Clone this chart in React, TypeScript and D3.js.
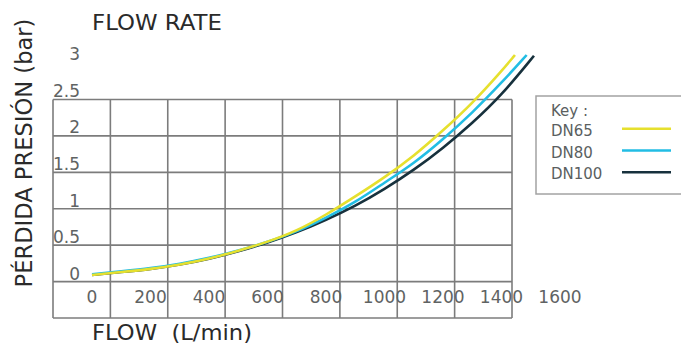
import React from "react";
import * as d3 from "d3";

const xTicks = [0, 200, 400, 600, 800, 1000, 1200, 1400, 1600];
const yTicks = [0, 0.5, 1, 1.5, 2, 2.5, 3];

const dn65: [number, number][] = [
  [0, 0], [100, 0.04], [200, 0.08], [300, 0.14], [400, 0.22], [500, 0.33],
  [600, 0.45], [700, 0.6], [800, 0.82], [900, 1.07], [1000, 1.33], [1100, 1.62],
  [1200, 1.97], [1300, 2.34], [1400, 2.78], [1446, 3.0],
];
const dn80: [number, number][] = [
  [0, 0.01], [100, 0.05], [200, 0.09], [300, 0.15], [400, 0.23], [500, 0.33],
  [600, 0.45], [700, 0.59], [800, 0.78], [900, 0.99], [1000, 1.26], [1100, 1.52],
  [1200, 1.85], [1300, 2.21], [1400, 2.62], [1486, 3.0],
];
const dn100: [number, number][] = [
  [0, 0], [100, 0.04], [200, 0.08], [300, 0.14], [400, 0.22], [500, 0.32],
  [600, 0.44], [700, 0.58], [800, 0.75], [900, 0.94], [1000, 1.17], [1100, 1.43],
  [1200, 1.73], [1300, 2.07], [1400, 2.45], [1511, 2.99],
];

const seriesNames = ["DN65", "DN80", "DN100"];
const seriesColors = ["#e6e02e", "#22bde4", "#17313d"];
const seriesData = [dn65, dn80, dn100];

const gridCols = d3.range(0, 9);
const gridRows = d3.range(0, 7);

const FONT = "'DejaVu Sans', sans-serif";

export default function App() {
  const W = 681, H = 347;
  const x = d3.scaleLinear().domain([0, 1600]).range([92, 560]);
  const y = d3.scaleLinear().domain([0, 3]).range([275, 55]);
  const gx = d3.scaleLinear().domain([0, 8]).range([53, 512]);
  const gy = d3.scaleLinear().domain([0, 6]).range([99.5, 318]);
  const line = d3
    .line<[number, number]>()
    .x((d) => x(d[0]))
    .y((d) => y(d[1]))
    .curve(d3.curveBasis);

  const legendY = d3.scaleLinear().domain([0, 1]).range([135.7, 157.5]);
  const drawOrder = [2, 1, 0];

  return (
    <svg
      width={W}
      height={H}
      style={{ position: "absolute", left: 0, top: 0, background: "#fff" }}
      fontFamily={FONT}
    >
      <rect x={0} y={0} width={W} height={H} fill="#fff" />
      {/* grid */}
      <g stroke="#7c7c7c" strokeWidth={1.6} fill="none">
        {gridCols.map((c) => (
          <line key={"c" + c} x1={gx(c)} x2={gx(c)} y1={gy(0)} y2={gy(6)} />
        ))}
        {gridRows.map((r) => (
          <line key={"r" + r} x1={gx(0)} x2={gx(8)} y1={gy(r)} y2={gy(r)} />
        ))}
      </g>
      {/* y tick labels */}
      <g fill="#5f6363" fontSize={17} textAnchor="end">
        {yTicks.map((t) => (
          <text key={t} x={80} y={y(t) + 5}>
            {String(t)}
          </text>
        ))}
      </g>
      {/* x tick labels */}
      <g fill="#5f6363" fontSize={17} textAnchor="middle">
        {xTicks.map((t) => (
          <text key={t} x={x(t)} y={302.5}>
            {String(t)}
          </text>
        ))}
      </g>
      {/* curves */}
      {drawOrder.map((i) => (
        <path
          key={seriesNames[i]}
          d={line(seriesData[i]) || ""}
          fill="none"
          stroke={seriesColors[i]}
          strokeWidth={2.6}
          strokeLinecap="butt"
        />
      ))}
      {/* titles */}
      <text x={92} y={30} fontSize={21.5} fill="#2a2a2a" textLength={130} lengthAdjust="spacingAndGlyphs">
        FLOW RATE
      </text>
      <text
        x={92}
        y={340}
        fontSize={20.5}
        fill="#2a2a2a"
        style={{ whiteSpace: "pre" }}
        textLength={160}
        lengthAdjust="spacingAndGlyphs"
      >
        {"FLOW  (L/min)"}
      </text>
      <text
        transform="translate(32,153) rotate(-90)"
        textAnchor="middle"
        fontSize={22.6}
        fill="#2a2a2a"
      >
        PÉRDIDA PRESIÓN (bar)
      </text>
      {/* legend */}
      <rect x={536} y={96} width={160} height={98} fill="#fff" stroke="#a3a3a3" strokeWidth={1.5} />
      <text x={551} y={116} fontSize={15} fill="#5b5f5f">
        Key :
      </text>
      {seriesNames.map((n, i) => (
        <g key={n}>
          <text x={551} y={legendY(i)} fontSize={15} fill="#5b5f5f">
            {n}
          </text>
          <line
            x1={622}
            x2={671}
            y1={legendY(i) - 7}
            y2={legendY(i) - 7}
            stroke={seriesColors[i]}
            strokeWidth={2.6}
          />
        </g>
      ))}
    </svg>
  );
}
